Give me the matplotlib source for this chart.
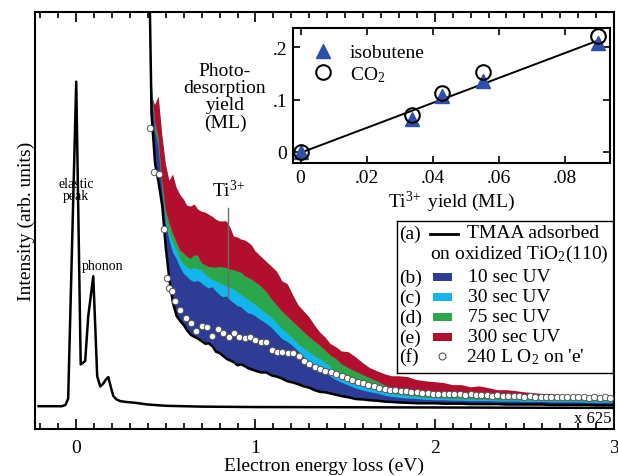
import matplotlib
matplotlib.use("Agg")
import matplotlib.pyplot as plt
from matplotlib.patches import Rectangle

plt.rcParams['font.family'] = ['Liberation Serif', 'DejaVu Serif']
plt.rcParams['mathtext.fontset'] = 'custom'
plt.rcParams['mathtext.rm'] = 'Liberation Serif'
plt.rcParams['mathtext.it'] = 'Liberation Serif:italic'
plt.rcParams['mathtext.bf'] = 'Liberation Serif:bold'

# ---------------- data ----------------
# elastic (x1) spectrum
E_el = [-0.21, -0.08, -0.06, -0.045, 0.0, 0.025, 0.05, 0.067, 0.095, 0.117, 0.134,
        0.15, 0.165, 0.179, 0.195, 0.207, 0.225, 0.246, 0.28, 0.33, 0.40, 0.50,
        0.70, 1.0, 2.0, 3.0]
I_el = [6.6, 6.6, 6.9, 8.4, 83.5, 16.5, 17.3, 27.9, 37.4, 13.7, 11.3,
        11.9, 12.9, 13.5, 10.8, 9.0, 8.2, 7.8, 7.6, 7.4, 7.0, 6.7,
        6.5, 6.4, 6.3, 6.2]

# magnified (x625) spectra
E = [0.40, 0.42, 0.44, 0.46, 0.48, 0.50, 0.52, 0.54, 0.56, 0.58,
     0.60, 0.62, 0.64, 0.66, 0.68, 0.70, 0.72, 0.74, 0.76, 0.78,
     0.80, 0.82, 0.84, 0.86, 0.88, 0.90, 0.92, 0.94, 0.96, 0.98,
     1.00, 1.03, 1.06, 1.09, 1.12, 1.15, 1.18, 1.21, 1.24, 1.27,
     1.30, 1.33, 1.36, 1.39, 1.42, 1.45, 1.48, 1.52, 1.56, 1.60,
     1.64, 1.68, 1.72, 1.76, 1.80, 1.85, 1.90, 1.95, 2.00, 2.05,
     2.10, 2.15, 2.20, 2.25, 2.30, 2.35, 2.40, 2.45, 2.50, 2.55,
     2.60, 2.65, 2.70, 2.75, 2.80, 2.85, 2.90, 2.95, 3.00]

tmaa = [130, 76, 64, 59.5, 54, 44, 36.5, 31, 28, 26.8,
        25.8, 24.5, 23.5, 23.0, 22.6, 22.0, 21.4, 21.5, 20.8, 19.5,
        19.2, 18.5, 17.8, 17.4, 17.0, 16.3, 16.5, 16.1, 15.6, 15.3,
        15.0, 14.6, 14.6, 13.9, 13.6, 13.1, 12.5, 12.2, 11.8, 11.3,
        11.0, 10.4, 10.0, 9.9, 9.6, 9.3, 9.0, 8.7, 8.3, 8.2,
        8.0, 7.9, 7.7, 7.6, 7.5, 7.4, 7.3, 7.3, 7.3, 7.2,
        7.2, 7.2, 7.1, 7.1, 7.1, 7.1, 7.0, 7.0, 7.0, 7.0,
        7.0, 6.9, 6.9, 6.9, 6.9, 6.9, 6.8, 6.8, 6.8]

uv10 = [130, 82, 72, 68, 58, 50, 46, 43, 41.5, 39.5,
        38.0, 37.2, 36.4, 36.0, 36.3, 35.7, 35.0, 34.5, 34.8, 33.8,
        33.0, 32.4, 32.6, 31.7, 31.0, 30.3, 30.1, 29.3, 28.6, 28.4,
        27.9, 27.0, 26.2, 25.2, 23.8, 22.5, 21.8, 20.8, 19.6, 18.2,
        17.2, 16.0, 15.2, 14.5, 13.6, 12.8, 12.2, 11.5, 10.8, 10.3,
        9.9, 9.6, 9.1, 8.8, 8.6, 8.4, 8.3, 8.1, 8.0, 8.0,
        7.9, 7.9, 7.8, 7.8, 7.8, 7.7, 7.7, 7.7, 7.6, 7.6,
        7.6, 7.5, 7.5, 7.5, 7.5, 7.4, 7.4, 7.4, 7.4]

uv30 = [130, 82, 72, 68, 58, 51, 47.5, 45.5, 43.5, 41.5,
        40.2, 39.5, 39.0, 39.4, 39.0, 38.9, 37.8, 37.2, 36.6, 36.2,
        35.8, 35.4, 35.0, 34.6, 34.3, 33.6, 33.0, 32.4, 31.8, 31.2,
        30.6, 29.6, 28.6, 27.6, 26.3, 24.9, 23.8, 22.6, 21.3, 20.3,
        19.5, 18.5, 17.8, 16.9, 15.9, 14.8, 14.0, 13.0, 12.3, 11.6,
        11.0, 10.5, 10.0, 9.6, 9.3, 9.0, 8.8, 8.6, 8.5, 8.4,
        8.3, 8.2, 8.2, 8.1, 8.1, 8.0, 8.0, 8.0, 7.9, 7.9,
        7.9, 7.8, 7.8, 7.8, 7.8, 7.7, 7.7, 7.7, 7.7]

uv75 = [130, 84, 74, 70, 60, 53, 50, 47.5, 45.5, 43.5,
        42.8, 42.0, 41.5, 42.4, 42.2, 40.5, 40.0, 39.6, 39.5, 39.4,
        39.6, 39.5, 39.3, 39.0, 38.8, 38.5, 38.3, 37.5, 37.0, 36.6,
        36.0, 35.0, 33.8, 32.0, 30.5, 29.0, 27.8, 26.6, 25.4, 24.2,
        23.0, 22.0, 21.0, 19.8, 18.6, 17.8, 16.6, 15.6, 14.8, 14.0,
        13.2, 12.5, 11.6, 11.0, 10.6, 10.3, 10.0, 9.8, 9.6, 9.4,
        9.2, 9.1, 9.0, 8.9, 8.8, 8.7, 8.7, 8.6, 8.5, 8.5,
        8.4, 8.4, 8.3, 8.3, 8.2, 8.2, 8.1, 8.1, 8.1]

uv300 = [130, 80, 78, 80, 71, 64, 60, 61.5, 58.4, 56.7,
         55.6, 54.1, 53.9, 54.4, 53.2, 52.7, 52.5, 52.0, 51.5, 50.8,
         50.4, 50.4, 50.4, 48.9, 46.8, 46.6, 46.1, 45.9, 45.4, 44.7,
         43.3, 42.1, 40.9, 39.7, 38.5, 36.2, 35.5, 32.9, 30.5, 29.1,
         27.7, 25.8, 24.1, 22.9, 21.3, 20.6, 19.6, 19.4, 18.2, 16.8,
         15.6, 14.9, 14.2, 13.7, 13.7, 13.5, 12.8, 12.5, 12.3, 12.1,
         11.6, 11.6, 11.1, 11.3, 10.9, 10.4, 10.4, 10.2, 9.9, 9.7,
         9.5, 9.5, 9.2, 9.0, 9.0, 8.7, 8.7, 8.7, 8.5]

E_o2 = [0.41, 0.435, 0.46, 0.49, 0.505, 0.52, 0.535, 0.55, 0.58, 0.61,
        0.64, 0.67, 0.70, 0.73, 0.76, 0.79, 0.82, 0.85, 0.88, 0.91,
        0.94, 0.97, 1.00, 1.03, 1.06, 1.09, 1.12, 1.15, 1.18, 1.21,
        1.24, 1.27, 1.30, 1.33, 1.36, 1.39, 1.42, 1.45, 1.48, 1.51,
        1.54, 1.57, 1.60, 1.63, 1.66, 1.69, 1.72, 1.75, 1.78, 1.81,
        1.84, 1.87, 1.90, 1.93, 1.96, 1.99, 2.02, 2.05, 2.08, 2.11,
        2.14, 2.17, 2.20, 2.23, 2.26, 2.29, 2.32, 2.35, 2.38, 2.41,
        2.44, 2.47, 2.50, 2.53, 2.56, 2.59, 2.62, 2.65, 2.68, 2.71,
        2.74, 2.77, 2.80, 2.83, 2.86, 2.89, 2.92, 2.95, 2.98]
o2 = [72.5, 62.0, 61.5, 48.5, 37.0, 34.5, 33.8, 31.5, 29.3, 27.6,
      26.3, 24.5, 25.6, 25.3, 23.3, 24.8, 24.0, 23.0, 24.0, 22.9,
      22.8, 23.0, 22.4, 21.9, 21.7, 20.0, 19.4, 19.5, 19.3, 19.2,
      18.6, 17.2, 16.6, 15.9, 15.3, 15.0, 14.8, 14.3, 13.8, 13.4,
      12.9, 12.4, 12.0, 11.7, 11.3, 11.0, 10.7, 10.5, 10.4, 10.2,
      10.1, 10.0, 9.9, 9.8, 9.7, 9.6, 9.5, 9.6, 9.5, 9.4,
      9.5, 9.3, 9.4, 9.2, 9.3, 9.2, 9.1, 9.2, 9.0, 9.1,
      9.0, 9.1, 8.9, 9.0, 8.9, 8.8, 8.9, 8.8, 8.9, 8.7,
      8.8, 8.7, 8.8, 8.7, 8.6, 8.7, 8.6, 8.7, 8.6]

# inset data
ti_yield = [0.0, 0.0336, 0.0427, 0.0553, 0.0902]
isobutene = [0.0, 0.0626, 0.106, 0.136, 0.208]
co2 = [0.0, 0.0703, 0.1124, 0.152, 0.221]
fit_x = [0.0, 0.0905]
fit_y = [-0.002, 0.214]

C_BLUE = '#2e3c96'
C_CYAN = '#12b5ec'
C_GREEN = '#2ca64b'
C_RED = '#b20f2f'
C_TRI = '#2f50a8'

TI3 = r'Ti$^{3\!+}$'

W, H = 618, 477
fig = plt.figure(figsize=(W / 100, H / 100), dpi=100)

def fr(l, t, r, b):
    return [l / W, 1 - b / H, (r - l) / W, (b - t) / H]

# ---------------- main axes ----------------
ax = fig.add_axes(fr(35, 13, 614, 430))
ax.set_xlim(-0.23, 3.0)
ax.set_ylim(1.2, 100)
ax.fill_between(E, tmaa, uv300, color=C_RED, lw=0, zorder=2)
ax.fill_between(E, tmaa, uv75, color=C_GREEN, lw=0, zorder=2.1)
ax.fill_between(E, tmaa, uv30, color=C_CYAN, lw=0, zorder=2.2)
ax.fill_between(E, tmaa, uv10, color=C_BLUE, lw=0, zorder=2.3)
ax.plot(E, tmaa, color='black', lw=1.8, zorder=3)
ax.plot(E_el, I_el, color='black', lw=1.8, zorder=3)
ax.plot(E_o2, o2, 'o', ms=4.6, mfc='white', mec='#555555', mew=0.7, zorder=4)
ax.plot([0.846, 0.846], [32.5, 53.5], color='#6b6b6b', lw=1.0, zorder=3.5)

ax.set_xticks([0, 1, 2, 3])
ax.set_xticks([x / 10 for x in range(-2, 31)], minor=True)
ax.set_yticks([])
ax.tick_params(axis='x', which='both', direction='in', top=True, bottom=True,
               labelsize=14, pad=7, width=1.2)
ax.tick_params(axis='x', which='major', length=7)
ax.tick_params(axis='x', which='minor', length=4)
for s in ax.spines.values():
    s.set_linewidth(1.5)
ax.set_xlabel('Electron energy loss (eV)', fontsize=14, labelpad=1)
ax.set_ylabel('Intensity (arb. units)', fontsize=14, labelpad=0)

ax.text(0.0, 58, 'elastic\npeak', fontsize=10, ha='center', va='center', linespacing=0.95)
ax.text(0.15, 40, 'phonon', fontsize=10, ha='center', va='center')
ax.text(0.85, 58, TI3, fontsize=14, ha='center', va='center')
ax.text(2.985, 3.8, 'x 625', fontsize=12, ha='right', va='center')
ax.text(0.83, 80, 'Photo-\ndesorption\nyield\n(ML)', fontsize=14, ha='center',
        va='center', linespacing=1.0)

# ---------------- inset ----------------
ins = fig.add_axes(fr(293, 29, 610, 164))
ins.set_xlim(-0.0023, 0.0937)
ins.set_ylim(-0.0216, 0.237)
ins.plot(fit_x, fit_y, color='black', lw=1.4, zorder=2)
ins.plot(ti_yield, isobutene, '^', ms=10, color=C_TRI, mec=C_TRI, zorder=3,
         label='isobutene')
ins.plot(ti_yield, co2, 'o', ms=10.5, mfc='none', mec='black', mew=1.5, zorder=4,
         label='CO$_2$')
ins.set_xticks([0, 0.02, 0.04, 0.06, 0.08])
ins.set_xticklabels(['0', '.02', '.04', '.06', '.08'])
ins.set_yticks([0, 0.1, 0.2])
ins.set_yticklabels(['0', '.1', '.2'])
ins.tick_params(direction='in', top=True, right=True, length=5, width=1.2,
                labelsize=14, pad=4)
for s in ins.spines.values():
    s.set_linewidth(1.5)
ins.set_xlabel(TI3 + ' yield (ML)', fontsize=14, labelpad=2)
ins.legend(loc='upper left', frameon=False, fontsize=14, handletextpad=0.8,
           borderaxespad=0.2, labelspacing=0.15, handlelength=1.2,
           bbox_to_anchor=(0.02, 0.97))

# ---------------- legend box ----------------
lg = fig.add_axes(fr(397, 222, 613, 374))
lg.set_xlim(397, 613)
lg.set_ylim(374, 222)
lg.set_xticks([])
lg.set_yticks([])
for s in lg.spines.values():
    s.set_linewidth(1.0)
fs = 14
lg.text(399, 234, '(a)', fontsize=fs, va='center', ha='left')
lg.plot([430, 458], [235, 235], color='black', lw=2)
lg.text(467, 234, 'TMAA adsorbed', fontsize=fs, va='center', ha='left')
lg.text(430, 254, 'on oxidized TiO$_2$(110)', fontsize=fs, va='center', ha='left')
rows = [('(b)', C_BLUE, '10 sec UV', 278),
        ('(c)', C_CYAN, '30 sec UV', 298),
        ('(d)', C_GREEN, '75 sec UV', 318),
        ('(e)', C_RED, '300 sec UV', 338)]
for lab, col, txt, y in rows:
    lg.text(399, y, lab, fontsize=fs, va='center', ha='left')
    lg.add_patch(Rectangle((433, y - 4.5), 19, 8, color=col, lw=0))
    lg.text(468, y, txt, fontsize=fs, va='center', ha='left')
lg.text(399, 357, '(f)', fontsize=fs, va='center', ha='left')
lg.plot([442], [357], 'o', ms=5, mfc='white', mec='#555555', mew=0.8)
lg.text(466, 357, "240 L O$_2$ on 'e'", fontsize=fs, va='center', ha='left')

fig.savefig('out.png', dpi=100)
